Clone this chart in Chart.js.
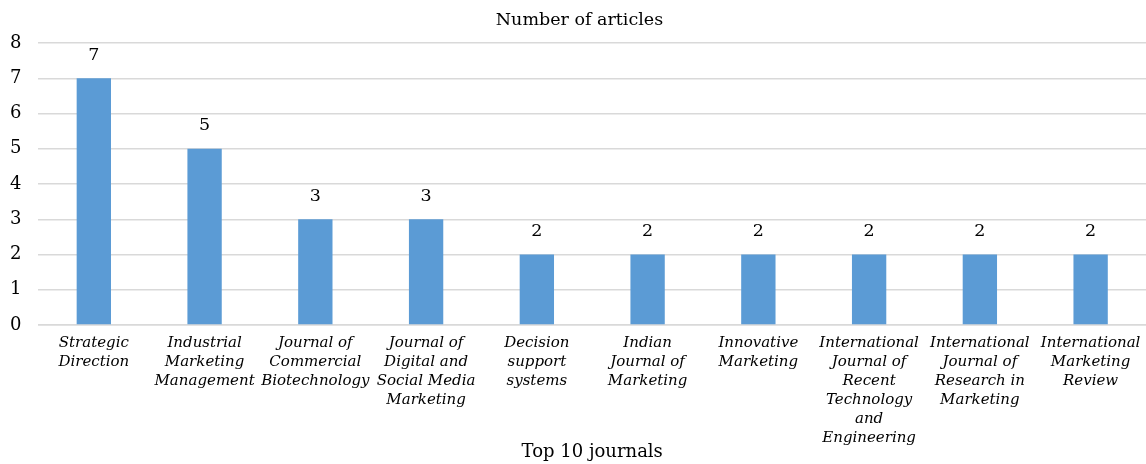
<!DOCTYPE html>
<html lang="en">
<head>
    <meta charset="UTF-8">
    <title>Top 10 journals</title>
    <script src="https://cdn.jsdelivr.net/npm/chart.js"></script>
    <style>
        html, body { margin: 0; padding: 0; background: #fff; }
        #wrap { width: 1146px; height: 464px; }
    </style>
</head>
<body>
    <div id="wrap"><canvas id="journalChart"></canvas></div>

    <script>
        // journals (multi-line labels as in the original)
        var journals = [
            ['Strategic', 'Direction'],
            ['Industrial', 'Marketing', 'Management'],
            ['Journal of', 'Commercial', 'Biotechnology'],
            ['Journal of', 'Digital and', 'Social Media', 'Marketing'],
            ['Decision', 'support', 'systems'],
            ['Indian', 'Journal of', 'Marketing'],
            ['Innovative', 'Marketing'],
            ['International', 'Journal of', 'Recent', 'Technology', 'and', 'Engineering'],
            ['International', 'Journal of', 'Research in', 'Marketing'],
            ['International', 'Marketing', 'Review']
        ];
        var articleCounts = [7, 5, 3, 3, 2, 2, 2, 2, 2, 2];
        var yTicks = [0, 1, 2, 3, 4, 5, 6, 7, 8];

        var serif = 'DejaVu Serif';

        // draw the value above each bar, nudge the title a bit right
        var barLabels = {
            id: 'barLabels',
            afterLayout: function(chart) {
                if (chart.titleBlock) chart.titleBlock.left += 20;
            },
            afterDatasetsDraw: function(chart) {
                var ctx = chart.ctx;
                var meta = chart.getDatasetMeta(0);
                ctx.save();
                ctx.font = '17.5px "' + serif + '"';
                ctx.fillStyle = '#000';
                ctx.textAlign = 'center';
                ctx.textBaseline = 'middle';
                meta.data.forEach(function(bar, i) {
                    ctx.fillText(articleCounts[i], bar.x, bar.y - 23);
                });
                ctx.restore();
            }
        };

        var ctx = document.getElementById('journalChart').getContext('2d');
        var myChart = new Chart(ctx, {
            type: 'bar',
            data: {
                labels: journals,
                datasets: [{
                    label: 'Number of articles',
                    data: articleCounts,
                    backgroundColor: '#5b9bd5',
                    barPercentage: 0.31,
                    categoryPercentage: 1
                }]
            },
            options: {
                responsive: true,
                maintainAspectRatio: false,
                animation: false,
                layout: { padding: { top: 0, right: 0, left: -7, bottom: 3 } },
                plugins: {
                    legend: { display: false },
                    tooltip: { enabled: false },
                    title: {
                        display: true,
                        text: 'Number of articles',
                        color: '#000',
                        font: { family: serif, size: 17.5, weight: 'normal' },
                        padding: { top: 10, bottom: 12 }
                    }
                },
                scales: {
                    x: {
                        // let the plot run to the right edge like the original
                        afterFit: function(axis) {
                            axis.paddingRight = 0;
                        },
                        grid: { display: false, drawTicks: false },
                        border: { color: '#d9d9d9', width: 1.5 },
                        ticks: {
                            color: '#000',
                            maxRotation: 0,
                            autoSkip: false,
                            padding: 9,
                            font: { family: serif, size: 15, style: 'italic', lineHeight: 19 / 15 }
                        },
                        title: {
                            display: true,
                            text: 'Top 10 journals',
                            color: '#000',
                            font: { family: serif, size: 18, lineHeight: 1 },
                            padding: { top: -14, bottom: 0 }
                        }
                    },
                    y: {
                        min: 0,
                        max: 8,
                        afterBuildTicks: function(axis) {
                            axis.ticks = yTicks.map(function(v) { return { value: v }; });
                        },
                        grid: { color: '#d9d9d9', lineWidth: 1.5, drawTicks: false },
                        border: { display: false },
                        ticks: {
                            color: '#000',
                            padding: 17,
                            font: { family: serif, size: 18 }
                        }
                    }
                }
            },
            plugins: [barLabels]
        });
    </script>
</body>
</html>
